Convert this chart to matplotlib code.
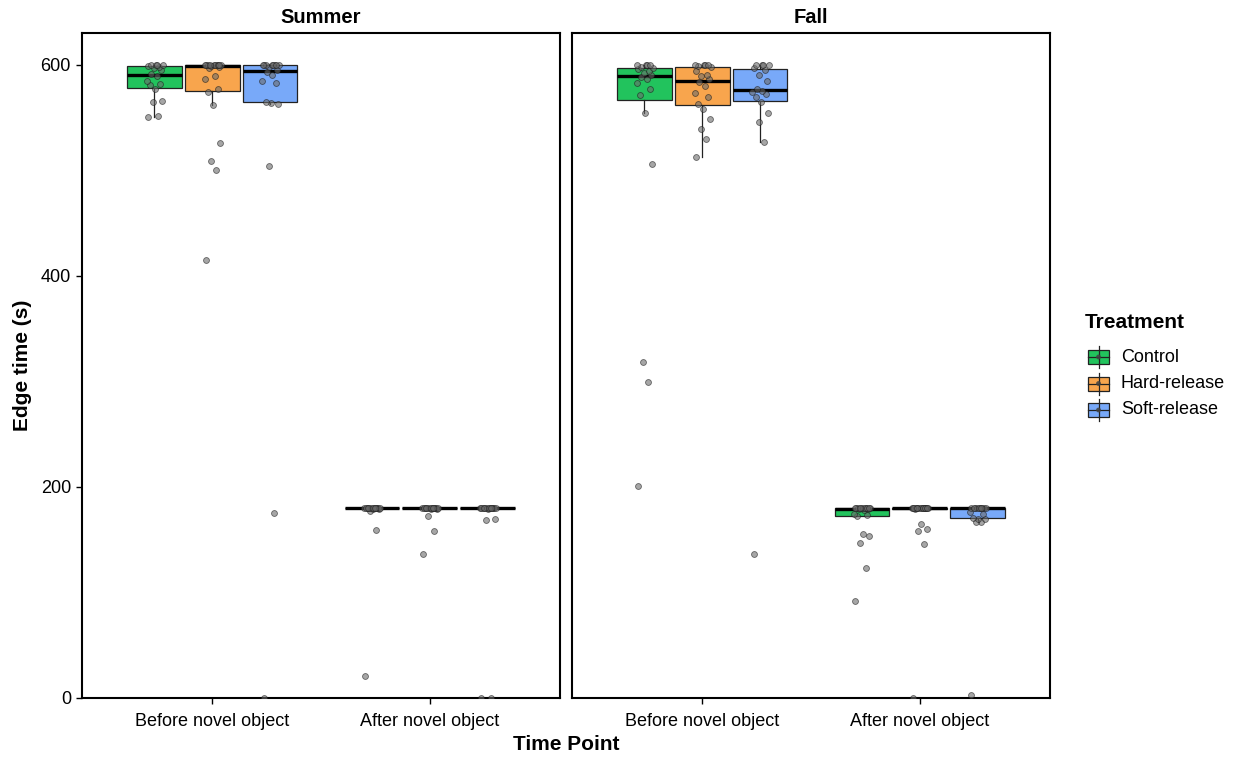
import matplotlib.pyplot as plt
from matplotlib.patches import Rectangle
import numpy as np

plt.rcParams['font.family'] = ['Liberation Sans', 'DejaVu Sans']

# ------------------------------------------------------------------
# Data: edge time (s) per animal, by season / time point / treatment
# ------------------------------------------------------------------
seasons = ['Summer', 'Fall']
time_points = ['Before novel object', 'After novel object']
treatments = ['Control', 'Hard-release', 'Soft-release']
colors = ['#22C35D', '#F8A54D', '#78A9F9']

summer_before_control = [550, 551, 565, 566, 577, 581, 582, 585, 589, 591, 595, 597, 598, 599,
                         600, 600, 600, 600]
summer_before_hard = [415, 500, 509, 526, 562, 574, 577, 586, 589, 597, 598, 599, 600, 600, 600,
                      600, 600, 600, 600, 600, 600, 600]
summer_before_soft = [0, 175, 504, 563, 564, 564.5, 583, 585, 590, 593, 595, 598, 600, 600, 600,
                      600, 600, 600, 600, 600]
summer_after_control = [21, 159, 177, 179, 179.5, 180, 180, 180, 180, 180, 180, 180, 180, 180,
                        180, 180, 180, 180]
summer_after_hard = [136, 158, 172, 179, 179.5, 180, 180, 180, 180, 180, 180, 180, 180, 180,
                     180, 180, 180, 180]
summer_after_soft = [0, 0, 169, 169.5, 179.5, 180, 180, 180, 180, 180, 180, 180, 180, 180, 180,
                     180, 180, 180]

fall_before_control = [201, 299, 318, 506, 554, 571, 577, 583, 586, 588, 590, 592, 594, 596, 597,
                       598, 600, 600, 600, 600]
fall_before_hard = [513, 530, 539, 549, 558, 563, 569, 573, 580, 584, 586, 589, 590, 594, 598,
                    599, 600, 600, 600, 600]
fall_before_soft = [136, 527, 546, 554, 565, 569, 572, 574, 575, 577, 585, 590, 595, 596.5, 600,
                    600, 600, 600]
fall_after_control = [92, 123, 147, 153.5, 155, 172, 173, 174, 178, 179, 179, 180, 180, 180, 180,
                      180, 180, 180, 180, 180, 180, 180]
fall_after_hard = [0, 146, 158, 160, 165, 179, 180, 180, 180, 180, 180, 180, 180, 180, 180, 180,
                   180, 180, 180, 180, 180, 180]
fall_after_soft = [3, 166.5, 167, 169.5, 170, 171, 174, 176, 180, 180, 180, 180, 180, 180, 180,
                   180, 180, 180]

edge_time = {
    'Summer': [[summer_before_control, summer_before_hard, summer_before_soft],
               [summer_after_control, summer_after_hard, summer_after_soft]],
    'Fall': [[fall_before_control, fall_before_hard, fall_before_soft],
             [fall_after_control, fall_after_hard, fall_after_soft]],
}

# fixed horizontal spread for the individual points
jitter = [-0.030, 0.018, -0.008, 0.034, 0.004, -0.022, 0.026, -0.036, 0.010, -0.014,
          0.030, -0.004, 0.022, -0.028, 0.038, -0.018, 0.006, 0.014, -0.032, 0.024,
          -0.010, 0.032]

dodge = 0.8 / 3
box_w = 0.25

# ------------------------------------------------------------------
# Figure
# ------------------------------------------------------------------
fig = plt.figure(figsize=(12.38, 7.57), dpi=100)
W, H = 1238, 757
ax_pos = [(82, 33, 560, 698), (572, 33, 1050, 698)]

for k, (season, (x0, y0, x1, y1)) in enumerate(zip(seasons, ax_pos)):
    ax = fig.add_axes([x0 / W, 1 - y1 / H, (x1 - x0) / W, (y1 - y0) / H])
    for t, tp in enumerate(time_points):
        for j, trt in enumerate(treatments):
            vals = np.array(edge_time[season][t][j], dtype=float)
            xc = t + 1 + (j - 1) * dodge
            bp = ax.boxplot(vals, positions=[xc], widths=box_w, patch_artist=True,
                            showfliers=False, showcaps=False, whis=1.5, zorder=2,
                            boxprops=dict(facecolor=colors[j], edgecolor='#222222', lw=0.9),
                            whiskerprops=dict(color='#222222', lw=0.9),
                            medianprops=dict(color='black', lw=2.4, solid_capstyle='butt'))
            xs = xc + np.array(jitter[:len(vals)])
            ax.scatter(xs, vals, s=18, facecolor=(0.42, 0.42, 0.42, 0.6),
                       edgecolor=(0.1, 0.1, 0.1, 0.6), lw=0.6, zorder=3, clip_on=True)

    ax.set_xlim(0.4, 2.6)
    ax.set_ylim(0, 630)
    ax.set_xticks([1, 2])
    ax.set_xticklabels(time_points, fontsize=13, color='black')
    ax.set_yticks([0, 200, 400, 600])
    ax.tick_params(axis='x', direction='out', length=4, width=1, color='black', pad=7)
    if k == 0:
        ax.set_yticklabels(['0', '200', '400', '600'], fontsize=13, color='black')
        ax.tick_params(axis='y', direction='out', length=4, width=1, color='black', pad=4)
    else:
        ax.tick_params(axis='y', left=False, labelleft=False)
    for sp in ax.spines.values():
        sp.set_linewidth(1.5)
        sp.set_color('black')
    ax.set_title(season, fontsize=14.5, fontweight='bold', pad=7)

fig.text(566 / W, 1 - 744 / H, 'Time Point', fontsize=15, fontweight='bold',
         ha='center', va='center')
fig.text(22 / W, 1 - 365 / H, 'Edge time (s)', fontsize=15, fontweight='bold',
         ha='center', va='center', rotation=90)

# ------------------------------------------------------------------
# Legend drawn in pixel coordinates
# ------------------------------------------------------------------
lg = fig.add_axes([0, 0, 1, 1], facecolor='none')
lg.set_xlim(0, W)
lg.set_ylim(H, 0)
lg.axis('off')
lg.text(1085, 323, 'Treatment', fontsize=15, fontweight='bold', va='center', ha='left')
for i, (trt, col) in enumerate(zip(treatments, colors)):
    yc = 357 + i * 26.5
    xc = 1098.5
    lg.plot([xc, xc], [yc - 11, yc + 11], color='#222222', lw=0.9)
    lg.add_patch(Rectangle((1088, yc - 7), 21, 14, facecolor=col, edgecolor='#222222', lw=0.9))
    lg.plot([1088, 1109], [yc, yc], color='#222222', lw=0.9)
    lg.scatter([xc], [yc], s=12, facecolor=(0.25, 0.25, 0.25, 0.85), edgecolor='none', zorder=4)
    lg.text(1121, yc, trt, fontsize=13, va='center', ha='left')

fig.savefig('out.png', dpi=100)
